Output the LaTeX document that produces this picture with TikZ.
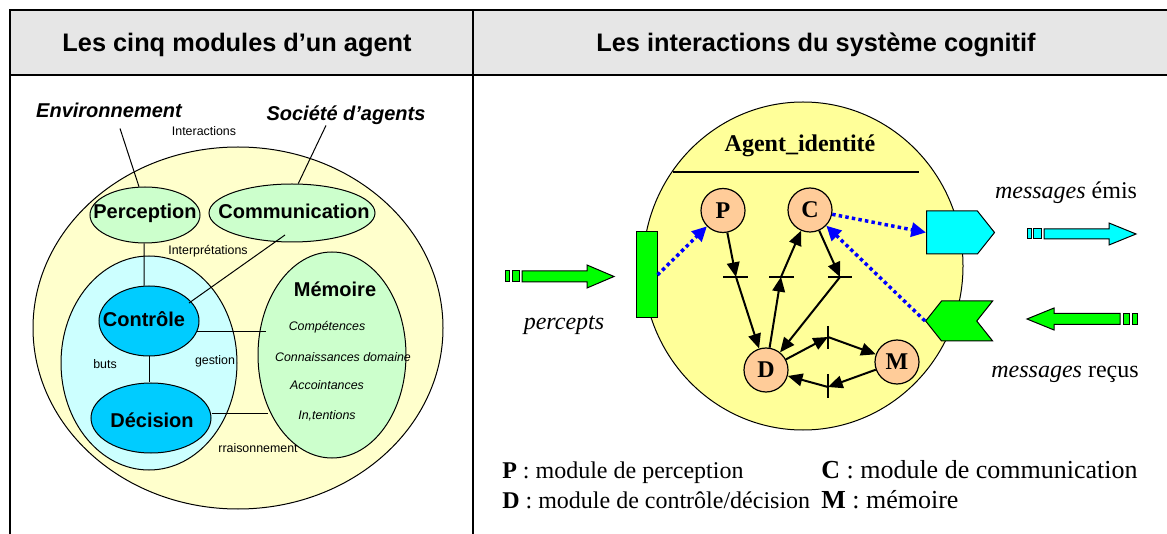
\documentclass[tikz,border=0pt]{standalone}
\usepackage{fontspec}
\setmainfont{Liberation Sans}
\newfontfamily\tms{Liberation Serif}
\usetikzlibrary{shapes.geometric,shapes.symbols,arrows.meta,calc}
\definecolor{hdr}{RGB}{230,230,230}
\definecolor{outery}{RGB}{255,255,204}
\definecolor{lgreen}{RGB}{204,255,204}
\definecolor{lcyan}{RGB}{204,255,255}
\definecolor{modcyan}{RGB}{0,204,255}
\definecolor{ry}{RGB}{255,255,153}
\definecolor{peach}{RGB}{255,204,153}
\definecolor{grn}{RGB}{0,255,0}
\definecolor{cyn}{RGB}{0,255,255}
\definecolor{blu}{RGB}{0,0,255}
\begin{document}
\begin{tikzpicture}[x=0.75pt,y=-0.75pt,
  frame/.style={line width=1.5pt},
  hdrtext/.style={font=\fontsize{19}{22}\selectfont\bfseries, inner sep=0},
  ell/.style={ellipse, draw, line width=0.75pt, inner sep=0},
  biglbl/.style={font=\fontsize{15}{18}\selectfont\bfseries, inner sep=0, anchor=base},
  bigit/.style={font=\fontsize{15}{18}\selectfont\bfseries\itshape, inner sep=0, anchor=base},
  small/.style={font=\fontsize{9.3}{11}\selectfont, inner sep=0, anchor=base},
  smallit/.style={font=\fontsize{9.3}{11}\selectfont\itshape, inner sep=0, anchor=base},
  thinline/.style={line width=0.75pt},
  rtext/.style={font={\tms\fontsize{18}{21}\selectfont}, inner sep=0},
  rtextb/.style={font={\tms\fontsize{19.5}{22}\selectfont}, inner sep=0},
  modnode/.style={circle, draw, fill=peach, minimum size=33pt, inner sep=0, line width=0.9pt,
                  font={\tms\bfseries\fontsize{18}{20}\selectfont}},
  flow/.style={line width=1.5pt, -{Triangle[length=11pt,width=9.5pt]}},
  tickbar/.style={line width=1.1pt},
  dotarrow/.style={blu, line width=2.6pt, dash pattern=on 2.6pt off 2.4pt,
                   -{Triangle[length=11pt,width=10.5pt]}},
  fat/.style={draw, line width=0.75pt}
]
\useasboundingbox (0,0) rectangle (1167,534);

% ---------- table frame ----------
\fill[hdr] (10,10) rectangle (1167,75);
\draw[frame] (1167,10) -- (10,10) -- (10,534);
\draw[frame] (10,75) -- (1167,75);
\draw[frame] (473,10) -- (473,534);
\node[hdrtext, anchor=base] (h1) at (237,52) {Les cinq modules d’un agent};
\node[hdrtext, anchor=base] (h2) at (816,52) {Les interactions du système cognitif};

% ---------- left panel ----------
\node[ell, fill=outery, minimum width=307.5pt, minimum height=271.5pt] (agent) at (238,328) {};
\node[ell, fill=lgreen, minimum width=82.5pt, minimum height=42pt] (perc) at (145,215) {};
\node[ell, fill=lgreen, minimum width=124.5pt, minimum height=43.5pt] (comm) at (292,213) {};
\node[ell, fill=lcyan, minimum width=132pt, minimum height=160.5pt] (inner) at (149,363) {};
\node[ell, fill=modcyan, minimum width=75pt, minimum height=52.5pt] (ctrl) at (149,321) {};
\node[ell, fill=modcyan, minimum width=90pt, minimum height=52.5pt] (dec) at (151,418) {};
\node[ell, fill=lgreen, minimum width=111pt, minimum height=154.5pt] (mem) at (332,355) {};

\node[bigit] (env) at (109,118) {Environnement};
\node[bigit] (soc) at (346,121) {Société d’agents};

\draw[thinline] ($(env.south)+(11,10)$) -- (perc.102);
\draw[thinline] ($(soc.south)+(-20,0)$) -- (comm.78);
\draw[thinline] (perc.-92) -- (ctrl.98);
\draw[thinline] ($(comm)+(-7,22)$) -- ($(ctrl)+(40,-18)$);
\draw[thinline] ($(ctrl)+(48,11)$) -- ($(mem)+(-66,-23)$);
\draw[thinline] (ctrl.south) -- (ctrl.south |- dec.north);
\draw[thinline] ($(dec.east)+(0,-5)$) -- ($(mem)+(-64,58)$);

\node[biglbl] (percl) at (145,219) {Perception};
\node[biglbl] (comml) at (294,219) {Communication};
\node[biglbl] (ctrll) at (144,327) {Contrôle};
\node[biglbl] (decl) at (152,427) {Décision};
\node[biglbl] (meml) at (335,297) {Mémoire};

\node[small] (inter) at (204,136) {Interactions};
\node[small] (interp) at (208,255) {Interprétations};
\node[small] (buts) at (105,369) {buts};
\node[small] (gest) at (215,365) {gestion};
\node[small] (rais) at (258,452) {rraisonnement};

\node[smallit] (m1) at (327,331) {Compétences};
\node[smallit] (m2) at (343,362) {Connaissances domaine};
\node[smallit] (m3) at (327,390) {Accointances};
\node[smallit] (m4) at (327,419) {In,tentions};

% ---------- right panel ----------
\node[ellipse, draw, fill=ry, line width=0.75pt, minimum width=240pt, minimum height=246pt, inner sep=0] (agentR) at (803,266) {};
\draw[line width=1.1pt] ($(agentR)+(-130,-94)$) -- ($(agentR)+(116,-94)$);
\node[rtext, font={\tms\bfseries\fontsize{18}{21}\selectfont}, anchor=base] (title) at (800,152) {Agent\_identité};

\node[modnode] (P) at (723,210.5) {P};
\node[modnode] (C) at (810,210) {C};
\node[modnode] (D) at (766,370) {D};
\node[modnode] (M) at (897,362) {M};

\coordinate (t1) at (736,277);
\coordinate (t2) at (781,277);
\coordinate (t3) at (840,277);
\coordinate (t4) at (828,337);
\coordinate (t5) at (828,387);

\draw[tickbar] ($(t1)+(-13,0)$) -- ($(t1)+(12,0)$);
\draw[tickbar] ($(t2)+(-12,0)$) -- ($(t2)+(13,0)$);
\draw[tickbar] ($(t3)+(-12,0)$) -- ($(t3)+(12,0)$);
\draw[tickbar] ($(t4)+(0,-11)$) -- ($(t4)+(0,12)$);
\draw[tickbar] ($(t5)+(0,-13)$) -- ($(t5)+(0,11)$);

\draw[flow] (P) -- (t1);
\draw[flow] (t1) -- (D);
\draw[flow] (D) -- (t2);
\draw[flow] (t2) -- (C);
\draw[flow] (C) -- (t3);
\draw[flow] (t3) -- (D);
\draw[flow] (D) -- (t4);
\draw[flow] (t4) -- (M);
\draw[flow] (M) -- (t5);
\draw[flow] (t5) -- (D);

% interfaces
\node[draw, fill=grn, line width=0.75pt, minimum width=15.75pt, minimum height=64.5pt, inner sep=0] (recv) at (646.5,275) {};
\node[signal, signal to=east, signal pointer angle=103, draw, fill=cyn, line width=0.75pt,
      minimum width=51pt, minimum height=32.25pt, inner sep=0, anchor=west] (emit) at (926,232.5) {};
\node[signal, signal to=west, signal from=east, signal pointer angle=103, draw, fill=grn, line width=0.75pt,
      minimum width=50.25pt, minimum height=30pt, inner sep=0, anchor=west] (recvmsg) at (925,321) {};

\draw[dotarrow] (recv.east) -- (P);
\draw[dotarrow] (C) -- (emit.west);
\draw[dotarrow] (recvmsg.west) -- (C);

% fat arrows
\filldraw[fat, fill=grn] (522,271) -- (587,271) -- (587,265) -- (614,276.5) -- (587,288) -- (587,282) -- (522,282) -- cycle;
\filldraw[fat, fill=grn] (505,271) rectangle (509,282);
\filldraw[fat, fill=grn] (512,271) rectangle (519,282);

\filldraw[fat, fill=cyn] (1044,229) -- (1109,229) -- (1109,223) -- (1136,234) -- (1109,245) -- (1109,239) -- (1044,239) -- cycle;
\filldraw[fat, fill=cyn] (1027,229) rectangle (1031,239);
\filldraw[fat, fill=cyn] (1033,229) rectangle (1041,239);

\filldraw[fat, fill=grn] (1120,313.5) -- (1054,313.5) -- (1054,308) -- (1027,319) -- (1054,330) -- (1054,324.5) -- (1120,324.5) -- cycle;
\filldraw[fat, fill=grn] (1123,313.5) rectangle (1129,324.5);
\filldraw[fat, fill=grn] (1132,313.5) rectangle (1137,324.5);

\node[rtext, anchor=base] (percepts) at (564,330) {\textit{percepts}};
\node[rtext, anchor=base] (emis) at (1066,199) {\textit{messages} émis};
\node[rtext, anchor=base] (recus) at (1065,378) {\textit{messages} reçus};

% legend
\node[rtext, anchor=base west] (lp) at (502,478) {\textbf{P} : module de perception};
\node[rtext, anchor=base west] (ld) at (502,508) {\textbf{D} : module de contrôle/décision};
\node[rtextb, anchor=base west] (lc) at (821,478) {\textbf{C} : module de communication};
\node[rtextb, anchor=base west] (lm) at (821,508) {\textbf{M} : mémoire};
\end{tikzpicture}
\end{document}
